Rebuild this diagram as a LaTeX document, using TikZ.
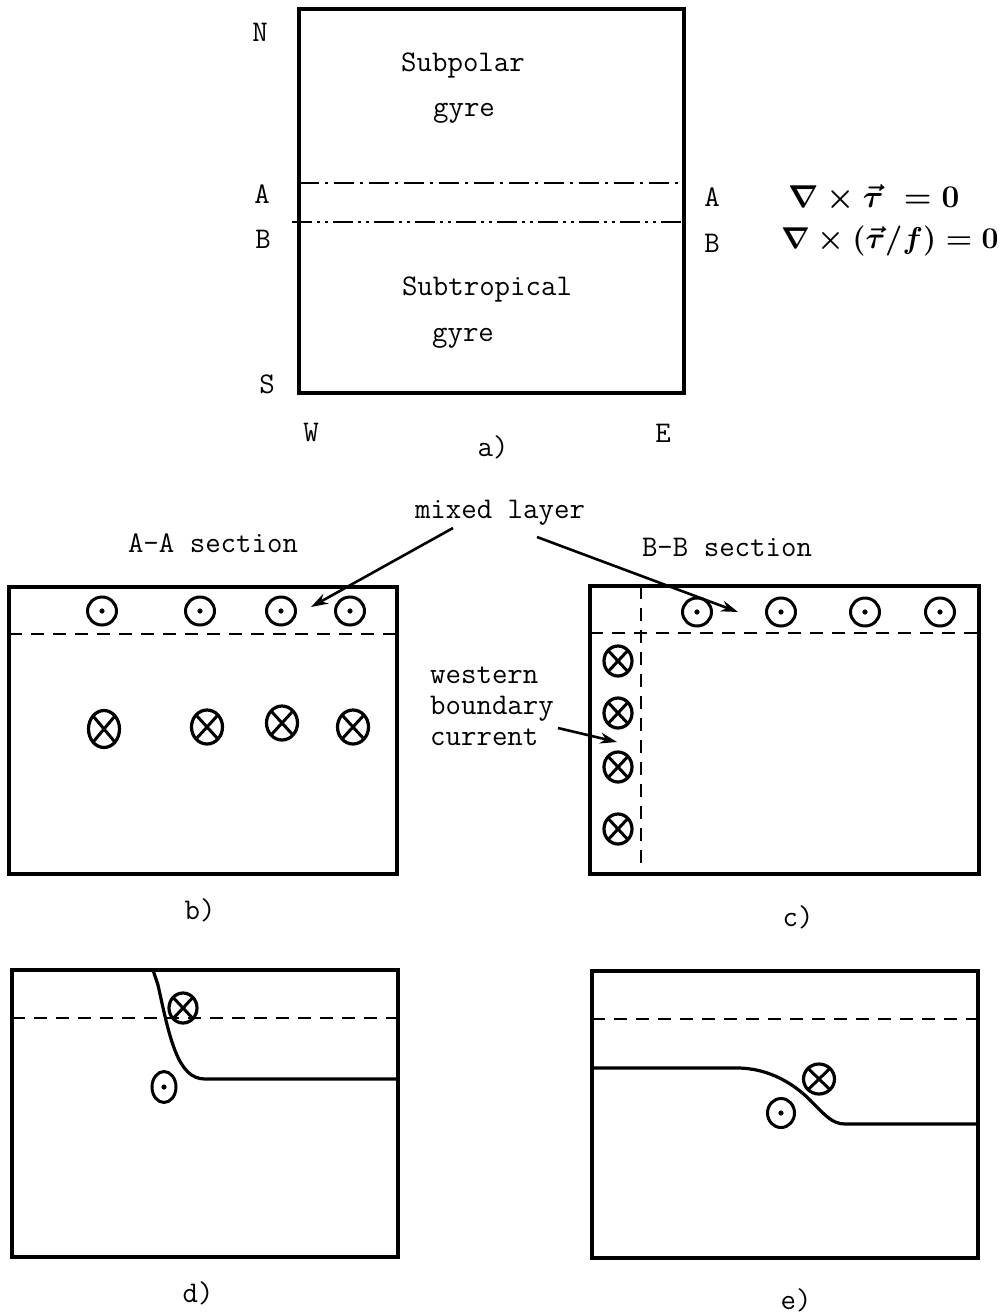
\documentclass[tikz,border=0pt]{standalone}
\usepackage{graphicx}
\usepackage[no-math]{fontspec}
\setmainfont{Latin Modern Mono}
\usetikzlibrary{arrows.meta,shapes.geometric}
\begin{document}
\begin{tikzpicture}[x=1pt,y=-1pt,
  frame/.style={line width=3.2pt, line join=miter},
  lbl/.style={font=\fontsize{30}{36}\selectfont, inner sep=0pt},
  eqn/.style={font=\fontsize{24.88}{30}\selectfont\boldmath, inner sep=0pt, anchor=west},
  dashline/.style={line width=2.8pt, dash pattern=on 13pt off 9pt},
  dashdotA/.style={line width=2.8pt, dash pattern=on 20pt off 6pt on 3pt off 6pt},
  dashdotB/.style={line width=2.8pt, dash pattern=on 20pt off 5pt on 3pt off 5pt on 3pt off 5pt},
  layer/.style={line width=3.2pt, line join=round},
  outof/.style={draw, ellipse, line width=3pt, inner sep=0pt, minimum width=29pt, minimum height=28pt,
    path picture={\fill (path picture bounding box.center) circle (2.6pt);}},
  into/.style={draw, ellipse, line width=3.2pt, inner sep=0pt, minimum width=31pt, minimum height=34pt,
    path picture={\draw[line width=3pt] (path picture bounding box.south west) -- (path picture bounding box.north east)
      (path picture bounding box.north west) -- (path picture bounding box.south east);}},
  arr/.style={line width=2.6pt, -{Stealth[length=17pt,width=11pt]}}
]
\useasboundingbox (0,0) rectangle (1005,1315);

% ---------- panel a ----------
\draw[frame] (299,9) rectangle (684,393);
\draw[dashdotA] (299,183) -- (684,183);
\draw[dashdotB] (292,222) -- (684,222);
\node[lbl] (sp1) at (463,65) {Subpolar};
\node[lbl] (sp2) at (464,113) {gyre};
\node[lbl] (st1) at (487,289) {Subtropical};
\node[lbl] (st2) at (463,338) {gyre};
\node[lbl] (N) at (260,32) {N};
\node[lbl] (Al) at (262,194) {A};
\node[lbl] (Bl) at (263,239) {B};
\node[lbl] (S) at (267,384) {S};
\node[lbl] (W) at (311,432) {W};
\node[lbl] (E) at (663,433) {E};
\node[lbl] (Ar) at (712,197) {A};
\node[lbl] (Br) at (712,243) {B};
\node[lbl] (la) at (493,447) {a)};
\node[eqn] (eq1) at (788,198) {\scalebox{1.27}{$\nabla\times\vec{\tau}\;=0$}};
\node[eqn] (eq2) at (781,241) {\scalebox{1.21}{$\nabla\times(\vec{\tau}/f)=0$}};

% ---------- panel b ----------
\draw[frame] (9,587) rectangle (397,874);
\draw[dashline] (9,634) -- (397,634);
\node[lbl] (secA) at (213,543) {A-A section};
\node[outof] (b1) at (102,611) {};
\node[outof] (b2) at (200,611) {};
\node[outof] (b3) at (281,611) {};
\node[outof] (b4) at (350,611) {};
\node[into, minimum height=37pt] (bx1) at (104,729) {};
\node[into] (bx2) at (207,727) {};
\node[into] (bx3) at (282,723) {};
\node[into] (bx4) at (353,727) {};
\node[lbl] (lb) at (200,910) {b)};

% ---------- mixed layer label ----------
\node[lbl] (ml) at (500,513) {mixed layer};
\coordinate (ml1) at (453,528);
\coordinate (ml2) at (537,537);
\coordinate (tip1) at (311,607);
\coordinate (tip2) at (738,612);
\draw[arr] (ml1) -- (tip1);
\draw[arr] (ml2) -- (tip2);

% ---------- panel c ----------
\draw[frame] (590,586) rectangle (979,874);
\draw[dashline] (590,633) -- (979,633);
\draw[dashline] (641,586) -- (641,874);
\node[lbl] (secB) at (727,547) {B-B section};
\node[outof] (c1) at (697,612) {};
\node[outof] (c2) at (781,612) {};
\node[outof] (c3) at (865,612) {};
\node[outof] (c4) at (940,612) {};
\node[into, minimum width=28pt, minimum height=30pt] (cx1) at (618,661) {};
\node[into, minimum width=28pt, minimum height=30pt] (cx2) at (618,713) {};
\node[into, minimum width=28pt, minimum height=30pt] (cx3) at (618,767) {};
\node[into, minimum width=28pt, minimum height=30pt] (cx4) at (618,829) {};
\node[lbl, align=left, anchor=west, font=\fontsize{30}{31}\selectfont] (wbc) at (430,706) {western\\boundary\\current};
\coordinate (wbc1) at (558,728);
\coordinate (wbctip) at (617,742);
\draw[arr] (wbc1) -- (wbctip);
\node[lbl] (lc) at (798,917) {c)};

% ---------- panel d ----------
\draw[frame] (12,970) rectangle (398,1257);
\draw[dashline] (12,1018) -- (398,1018);
\draw[layer] (153,970) -- (158,985) .. controls (170,1040) and (178,1079) .. (205,1079) -- (398,1079);
\node[into, minimum width=28pt, minimum height=30pt] (dx) at (183,1008) {};
\node[outof, minimum width=24pt, minimum height=31pt] (dd) at (164,1087) {};
\node[lbl] (ld) at (198,1293) {d)};

% ---------- panel e ----------
\draw[frame] (592,971) rectangle (978,1258);
\draw[dashline] (592,1019) -- (978,1019);
\draw[layer] (592,1068) -- (737,1068) .. controls (770,1068) and (795,1085) .. (810,1100)
  .. controls (825,1115) and (832,1124) .. (845,1124) -- (978,1124);
\node[into, minimum width=31pt, minimum height=30pt] (ex) at (819,1079) {};
\node[outof, minimum width=27pt, minimum height=29pt] (ed) at (781,1113) {};
\node[lbl] (le) at (796,1300) {e)};
\end{tikzpicture}
\end{document}
